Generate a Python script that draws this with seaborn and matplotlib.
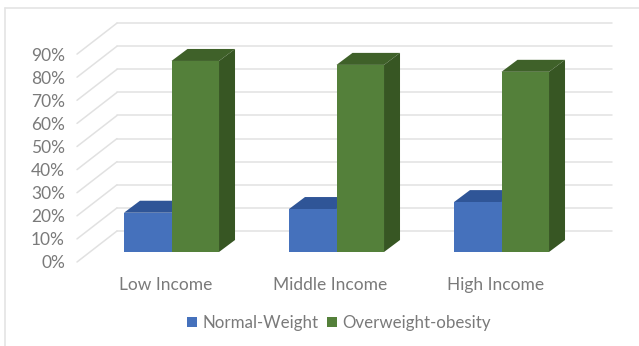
import matplotlib.pyplot as plt
from matplotlib.lines import Line2D
from matplotlib.patches import Polygon
from matplotlib.transforms import ScaledTranslation
import pandas as pd
import seaborn as sns

sns.set_style('white')
plt.rcParams['font.family'] = ['Lato', 'DejaVu Sans']

# values
income_groups = ['Low Income', 'Middle Income', 'High Income']
normal_weight = [17, 18.6, 21.6]
overweight_obesity = [82.7, 81, 78]
y_ticks = [0, 10, 20, 30, 40, 50, 60, 70, 80, 90]

blue = '#4571BC'
blue_top = '#2F5597'
green = '#54803A'
green_top = '#3F6129'
green_side = '#375623'
grid_col = '#E1E1E1'
text_col = '#7A7A7A'

W, H = 639, 346
fig = plt.figure(figsize=(W / 100, H / 100), dpi=100)
# axes = plane of the bar fronts, in pixels
ax = fig.add_axes([89 / W, (H - 252) / H, 495 / W, 207.9 / H])

df = pd.DataFrame({'group': income_groups * 2,
                   'share': normal_weight + overweight_obesity,
                   'series': ['Normal-Weight'] * 3 + ['Overweight-obesity'] * 3})
sns.barplot(data=df, x='group', y='share', hue='series', ax=ax, width=0.576, gap=0,
            palette={'Normal-Weight': blue, 'Overweight-obesity': green},
            saturation=1, linewidth=0, zorder=5)
ax.set(xlim=(-0.5, 2.5), ylim=(0, 90), xlabel='', ylabel='')
sns.despine(ax=ax, left=True, bottom=True)

# pixel to data units
px_x = 3 / 495
px_y = 90 / 207.9

# fake 3d: back wall and left wall grid
for t in y_ticks:
    x_back = -0.5 + 28 * px_x
    y_back = t + 21 * px_y
    ax.plot([x_back, 2.5 + 28 * px_x], [y_back, y_back], color=grid_col, lw=1.1,
            clip_on=False, zorder=1)
    ax.plot([-0.5 - 12 * px_x, x_back], [t - 10 * px_y, y_back], color=grid_col, lw=1.1,
            clip_on=False, zorder=1)

# fake 3d: depth faces of each bar
dx = 16 * px_x
dy = 12 * px_y
n = len(income_groups)
for i, bar in enumerate(ax.patches[:2 * n]):
    x0, w, h = bar.get_x(), bar.get_width(), bar.get_height()
    x1 = x0 + w
    is_green = i >= n
    top_col = green_top if is_green else blue_top
    side_col = green_side if is_green else blue_top
    z = 3 if is_green else 2
    ax.add_patch(Polygon([(x0, h), (x1, h), (x1 + dx, h + dy), (x0 + dx, h + dy)],
                         closed=True, fc=top_col, ec='none', clip_on=False, zorder=z))
    ax.add_patch(Polygon([(x1, 0), (x1 + dx, dy), (x1 + dx, h + dy), (x1, h)],
                         closed=True, fc=side_col, ec='none', clip_on=False, zorder=z))

ax.set_yticks(y_ticks)
ax.set_yticklabels([f'{t}%' for t in y_ticks])
ax.tick_params(axis='y', length=0, pad=17.3, labelsize=12.5, labelcolor=text_col)
ax.tick_params(axis='x', length=0, pad=18, labelsize=12.5, labelcolor=text_col)

# labels sit on the front plane, not the bar plane
for lbl in ax.get_yticklabels():
    lbl.set_transform(lbl.get_transform() + ScaledTranslation(0, -10 / 100, fig.dpi_scale_trans))
for lbl in ax.get_xticklabels():
    lbl.set_transform(lbl.get_transform() + ScaledTranslation(-6 / 100, 0, fig.dpi_scale_trans))

sns.move_legend(ax, loc='center', bbox_to_anchor=(339 / W, (H - 323) / H),
                bbox_transform=fig.transFigure, ncol=2, frameon=False, title=None,
                fontsize=12.2, labelcolor=text_col, handlelength=0.58, handleheight=0.6,
                handletextpad=0.3, columnspacing=0.5, borderpad=0)

# chart frame: only top and left are visible in the crop
fig.add_artist(Line2D([5 / W, 5 / W], [0, (H - 7.5) / H], color='#E4E4E4', lw=1.2))
fig.add_artist(Line2D([5 / W, 1], [(H - 7.5) / H, (H - 7.5) / H], color='#E4E4E4', lw=1.2))

fig.savefig('out.png', dpi=100)
